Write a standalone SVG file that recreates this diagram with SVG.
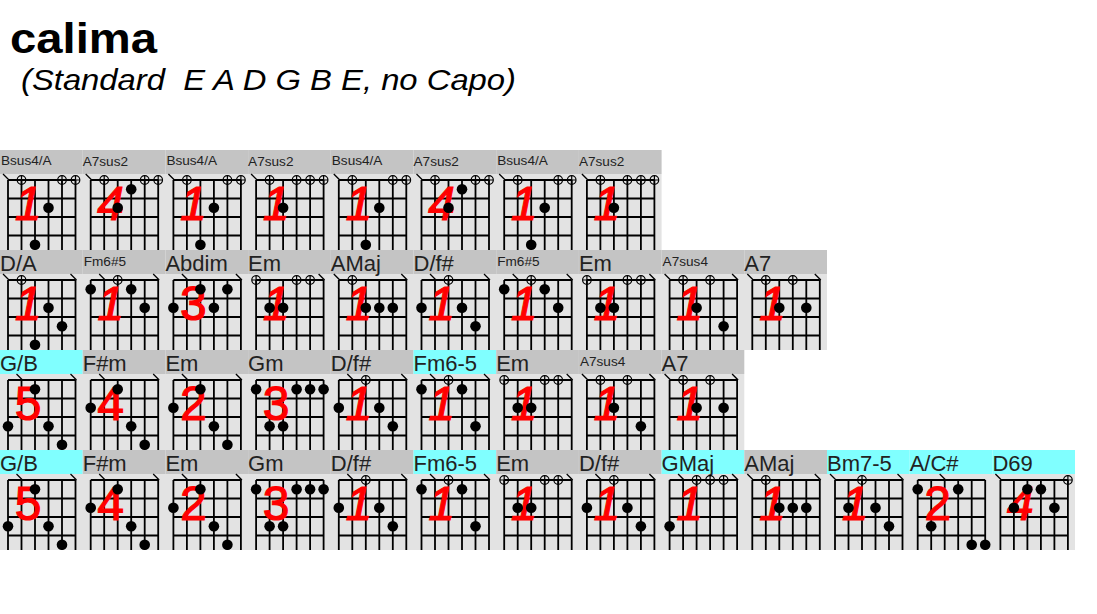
<svg xmlns="http://www.w3.org/2000/svg" xmlns:xlink="http://www.w3.org/1999/xlink" width="1097" height="614" viewBox="0 0 1097 614">
<style>
.bg{fill:#e3e3e3}
.hg{fill:#c4c4c4}
.hc{fill:#80ffff}
.lb{font-family:"Liberation Sans",Arial,sans-serif;font-size:22px;fill:#222}
.ls{font-size:13.6px}
.gl{stroke:#000;stroke-width:1.8;fill:none}
.mu{stroke:#000;stroke-width:1.3;fill:none}
.op{stroke:#000;stroke-width:1.2;fill:none}
.d{fill:#000}
.nm{font-family:"Liberation Sans",Arial,sans-serif;font-size:48px;fill:#ff0000;stroke:#ff0000;stroke-width:1.1;text-anchor:middle}
.it{font-style:italic}
</style>
<defs>
<path id="grid" class="gl" d="M8,30V100M21.5,30V100M35,30V100M48.5,30V100M62,30V100M75.5,30V100M8,30H75.5M8,48.5H75.5M8,67H75.5M8,85.5H75.5"/>
<path id="mx" class="mu" d="M-5,24L1,30"/>
<g id="mo" class="op"><circle cx="0" cy="30" r="4.3"/><path d="M-4.3,30H4.3M0,25.7V34.3"/></g>
<g id="c-bsa"><use href="#mx" x="8"/><use href="#mo" x="21.5"/><use href="#mo" x="62"/><use href="#mo" x="75.5"/><text class="nm it" x="28" y="70">1</text><circle class="d" cx="48.5" cy="57.75" r="5.3"/><circle class="d" cx="35" cy="94.75" r="5.3"/></g>
<g id="c-a7s2a"><use href="#mx" x="8"/><use href="#mo" x="21.5"/><use href="#mo" x="62"/><use href="#mo" x="75.5"/><text class="nm it" x="28" y="70">4</text><circle class="d" cx="48.5" cy="39.25" r="5.3"/><circle class="d" cx="35" cy="57.75" r="5.3"/></g>
<g id="c-a7s2b"><use href="#mx" x="8"/><use href="#mo" x="21.5"/><use href="#mo" x="48.5"/><use href="#mo" x="62"/><use href="#mo" x="75.5"/><text class="nm it" x="28" y="70">1</text><circle class="d" cx="35" cy="57.75" r="5.3"/></g>
<g id="c-da"><use href="#mx" x="8"/><use href="#mx" x="75.5"/><use href="#mo" x="21.5"/><text class="nm it" x="28" y="70">1</text><circle class="d" cx="48.5" cy="57.75" r="5.3"/><circle class="d" cx="62" cy="76.25" r="5.3"/><circle class="d" cx="35" cy="94.75" r="5.3"/></g>
<g id="c-fm6s5"><use href="#mx" x="21.5"/><use href="#mx" x="75.5"/><use href="#mo" x="35"/><text class="nm it" x="28" y="70">1</text><circle class="d" cx="8" cy="39.25" r="5.3"/><circle class="d" cx="48.5" cy="39.25" r="5.3"/><circle class="d" cx="62" cy="57.75" r="5.3"/></g>
<g id="c-abdim"><use href="#mx" x="21.5"/><use href="#mx" x="75.5"/><text class="nm" x="28" y="70">3</text><circle class="d" cx="35" cy="39.25" r="5.3"/><circle class="d" cx="62" cy="39.25" r="5.3"/><circle class="d" cx="8" cy="57.75" r="5.3"/><circle class="d" cx="48.5" cy="57.75" r="5.3"/></g>
<g id="c-em1"><use href="#mo" x="8"/><use href="#mo" x="48.5"/><use href="#mo" x="62"/><use href="#mx" x="75.5"/><text class="nm it" x="28" y="70">1</text><circle class="d" cx="21.5" cy="57.75" r="5.3"/><circle class="d" cx="35" cy="57.75" r="5.3"/></g>
<g id="c-amaj"><use href="#mx" x="8"/><use href="#mx" x="75.5"/><use href="#mo" x="21.5"/><text class="nm it" x="28" y="70">1</text><circle class="d" cx="35" cy="57.75" r="5.3"/><circle class="d" cx="48.5" cy="57.75" r="5.3"/><circle class="d" cx="62" cy="57.75" r="5.3"/></g>
<g id="c-dfs"><use href="#mx" x="21.5"/><use href="#mx" x="75.5"/><use href="#mo" x="35"/><text class="nm it" x="28" y="70">1</text><circle class="d" cx="8" cy="57.75" r="5.3"/><circle class="d" cx="48.5" cy="57.75" r="5.3"/><circle class="d" cx="62" cy="76.25" r="5.3"/></g>
<g id="c-a7s4"><use href="#mx" x="8"/><use href="#mx" x="75.5"/><use href="#mo" x="21.5"/><use href="#mo" x="48.5"/><text class="nm it" x="28" y="70">1</text><circle class="d" cx="35" cy="57.75" r="5.3"/><circle class="d" cx="62" cy="76.25" r="5.3"/></g>
<g id="c-a7"><use href="#mx" x="8"/><use href="#mx" x="75.5"/><use href="#mo" x="21.5"/><use href="#mo" x="48.5"/><text class="nm it" x="28" y="70">1</text><circle class="d" cx="35" cy="57.75" r="5.3"/><circle class="d" cx="62" cy="57.75" r="5.3"/></g>
<g id="c-gb"><use href="#mx" x="21.5"/><use href="#mx" x="75.5"/><text class="nm" x="28" y="70">5</text><circle class="d" cx="35" cy="39.25" r="5.3"/><circle class="d" cx="8" cy="76.25" r="5.3"/><circle class="d" cx="48.5" cy="76.25" r="5.3"/><circle class="d" cx="62" cy="94.75" r="5.3"/></g>
<g id="c-fsm"><use href="#mx" x="21.5"/><use href="#mx" x="75.5"/><text class="nm" x="28" y="70">4</text><circle class="d" cx="35" cy="39.25" r="5.3"/><circle class="d" cx="8" cy="57.75" r="5.3"/><circle class="d" cx="48.5" cy="76.25" r="5.3"/><circle class="d" cx="62" cy="94.75" r="5.3"/></g>
<g id="c-em2"><use href="#mx" x="21.5"/><use href="#mx" x="75.5"/><text class="nm" x="28" y="70">2</text><circle class="d" cx="35" cy="39.25" r="5.3"/><circle class="d" cx="8" cy="57.75" r="5.3"/><circle class="d" cx="48.5" cy="76.25" r="5.3"/><circle class="d" cx="62" cy="94.75" r="5.3"/></g>
<g id="c-gm"><text class="nm" x="28" y="70">3</text><circle class="d" cx="8" cy="39.25" r="5.3"/><circle class="d" cx="48.5" cy="39.25" r="5.3"/><circle class="d" cx="62" cy="39.25" r="5.3"/><circle class="d" cx="75.5" cy="39.25" r="5.3"/><circle class="d" cx="21.5" cy="76.25" r="5.3"/><circle class="d" cx="35" cy="76.25" r="5.3"/></g>
<g id="c-fm65"><use href="#mx" x="21.5"/><use href="#mx" x="75.5"/><use href="#mo" x="35"/><text class="nm it" x="28" y="70">1</text><circle class="d" cx="8" cy="39.25" r="5.3"/><circle class="d" cx="48.5" cy="39.25" r="5.3"/><circle class="d" cx="62" cy="76.25" r="5.3"/></g>
<g id="c-gmaj"><use href="#mx" x="21.5"/><use href="#mx" x="75.5"/><use href="#mo" x="35"/><use href="#mo" x="48.5"/><use href="#mo" x="62"/><text class="nm it" x="28" y="70">1</text><circle class="d" cx="8" cy="76.25" r="5.3"/></g>
<g id="c-bm75"><use href="#mx" x="8"/><use href="#mx" x="75.5"/><use href="#mo" x="35"/><text class="nm it" x="28" y="70">1</text><circle class="d" cx="21.5" cy="57.75" r="5.3"/><circle class="d" cx="48.5" cy="57.75" r="5.3"/><circle class="d" cx="62" cy="76.25" r="5.3"/></g>
<g id="c-ac"><use href="#mx" x="35"/><text class="nm" x="28" y="70">2</text><circle class="d" cx="8" cy="39.25" r="5.3"/><circle class="d" cx="48.5" cy="39.25" r="5.3"/><circle class="d" cx="21.5" cy="76.25" r="5.3"/><circle class="d" cx="62" cy="94.75" r="5.3"/><circle class="d" cx="75.5" cy="94.75" r="5.3"/></g>
<g id="c-d69"><use href="#mx" x="8"/><use href="#mo" x="75.5"/><text class="nm it" x="28" y="70">4</text><circle class="d" cx="35" cy="39.25" r="5.3"/><circle class="d" cx="48.5" cy="39.25" r="5.3"/><circle class="d" cx="21.5" cy="57.75" r="5.3"/><circle class="d" cx="62" cy="57.75" r="5.3"/></g>
</defs>
<rect width="1097" height="614" fill="#fff"/>
<g id="title">
<text x="10" y="53" font-family="Liberation Sans, Arial, sans-serif" font-weight="bold" font-size="43" textLength="147" lengthAdjust="spacingAndGlyphs">calima</text>
<text x="21" y="90" font-family="Liberation Sans, Arial, sans-serif" font-style="italic" font-size="30" xml:space="preserve" textLength="495" lengthAdjust="spacingAndGlyphs">(Standard  E A D G B E, no Capo)</text>
</g>
<g id="backgrounds">
<rect class="bg" x="0" y="174" width="661.6" height="76"/>
<rect class="bg" x="0" y="274" width="827" height="76"/>
<rect class="bg" x="0" y="374" width="744.3" height="76"/>
<rect class="bg" x="0" y="474" width="1075" height="76"/>
</g>
<g id="row1">
<g id="r1c1" transform="translate(0,150)"><rect class="hg" width="82.7" height="24"/><text class="lb ls" x="1" y="15">Bsus4/A</text><use href="#grid"/><use href="#c-bsa"/></g>
<g id="r1c2" transform="translate(82.7,150)"><rect class="hg" width="82.7" height="24"/><text class="lb ls" x="0" y="16">A7sus2</text><use href="#grid"/><use href="#c-a7s2a"/></g>
<g id="r1c3" transform="translate(165.4,150)"><rect class="hg" width="82.7" height="24"/><text class="lb ls" x="1" y="15">Bsus4/A</text><use href="#grid"/><use href="#c-bsa"/></g>
<g id="r1c4" transform="translate(248.1,150)"><rect class="hg" width="82.7" height="24"/><text class="lb ls" x="0" y="16">A7sus2</text><use href="#grid"/><use href="#c-a7s2b"/></g>
<g id="r1c5" transform="translate(330.8,150)"><rect class="hg" width="82.7" height="24"/><text class="lb ls" x="1" y="15">Bsus4/A</text><use href="#grid"/><use href="#c-bsa"/></g>
<g id="r1c6" transform="translate(413.5,150)"><rect class="hg" width="82.7" height="24"/><text class="lb ls" x="0" y="16">A7sus2</text><use href="#grid"/><use href="#c-a7s2a"/></g>
<g id="r1c7" transform="translate(496.2,150)"><rect class="hg" width="82.7" height="24"/><text class="lb ls" x="1" y="15">Bsus4/A</text><use href="#grid"/><use href="#c-bsa"/></g>
<g id="r1c8" transform="translate(578.9,150)"><rect class="hg" width="82.7" height="24"/><text class="lb ls" x="0" y="16">A7sus2</text><use href="#grid"/><use href="#c-a7s2b"/></g>
</g>
<g id="row2">
<g id="r2c1" transform="translate(0,250)"><rect class="hg" width="82.7" height="24"/><text class="lb" x="0" y="21">D/A</text><use href="#grid"/><use href="#c-da"/></g>
<g id="r2c2" transform="translate(82.7,250)"><rect class="hg" width="82.7" height="24"/><text class="lb ls" x="1" y="16">Fm6#5</text><use href="#grid"/><use href="#c-fm6s5"/></g>
<g id="r2c3" transform="translate(165.4,250)"><rect class="hg" width="82.7" height="24"/><text class="lb" x="0" y="21">Abdim</text><use href="#grid"/><use href="#c-abdim"/></g>
<g id="r2c4" transform="translate(248.1,250)"><rect class="hg" width="82.7" height="24"/><text class="lb" x="0" y="21">Em</text><use href="#grid"/><use href="#c-em1"/></g>
<g id="r2c5" transform="translate(330.8,250)"><rect class="hg" width="82.7" height="24"/><text class="lb" x="0" y="21">AMaj</text><use href="#grid"/><use href="#c-amaj"/></g>
<g id="r2c6" transform="translate(413.5,250)"><rect class="hg" width="82.7" height="24"/><text class="lb" x="0" y="21">D/f#</text><use href="#grid"/><use href="#c-dfs"/></g>
<g id="r2c7" transform="translate(496.2,250)"><rect class="hg" width="82.7" height="24"/><text class="lb ls" x="1" y="16">Fm6#5</text><use href="#grid"/><use href="#c-fm6s5"/></g>
<g id="r2c8" transform="translate(578.9,250)"><rect class="hg" width="82.7" height="24"/><text class="lb" x="0" y="21">Em</text><use href="#grid"/><use href="#c-em1"/></g>
<g id="r2c9" transform="translate(661.6,250)"><rect class="hg" width="82.7" height="24"/><text class="lb ls" x="1" y="16">A7sus4</text><use href="#grid"/><use href="#c-a7s4"/></g>
<g id="r2c10" transform="translate(744.3,250)"><rect class="hg" width="82.7" height="24"/><text class="lb" x="0" y="21">A7</text><use href="#grid"/><use href="#c-a7"/></g>
</g>
<g id="row3">
<g id="r3c1" transform="translate(0,350)"><rect class="hc" width="82.7" height="24"/><text class="lb" x="0" y="21">G/B</text><use href="#grid"/><use href="#c-gb"/></g>
<g id="r3c2" transform="translate(82.7,350)"><rect class="hg" width="82.7" height="24"/><text class="lb" x="0" y="21">F#m</text><use href="#grid"/><use href="#c-fsm"/></g>
<g id="r3c3" transform="translate(165.4,350)"><rect class="hg" width="82.7" height="24"/><text class="lb" x="0" y="21">Em</text><use href="#grid"/><use href="#c-em2"/></g>
<g id="r3c4" transform="translate(248.1,350)"><rect class="hg" width="82.7" height="24"/><text class="lb" x="0" y="21">Gm</text><use href="#grid"/><use href="#c-gm"/></g>
<g id="r3c5" transform="translate(330.8,350)"><rect class="hg" width="82.7" height="24"/><text class="lb" x="0" y="21">D/f#</text><use href="#grid"/><use href="#c-dfs"/></g>
<g id="r3c6" transform="translate(413.5,350)"><rect class="hc" width="82.7" height="24"/><text class="lb" x="0" y="21">Fm6-5</text><use href="#grid"/><use href="#c-fm65"/></g>
<g id="r3c7" transform="translate(496.2,350)"><rect class="hg" width="82.7" height="24"/><text class="lb" x="0" y="21">Em</text><use href="#grid"/><use href="#c-em1"/></g>
<g id="r3c8" transform="translate(578.9,350)"><rect class="hg" width="82.7" height="24"/><text class="lb ls" x="1" y="16">A7sus4</text><use href="#grid"/><use href="#c-a7s4"/></g>
<g id="r3c9" transform="translate(661.6,350)"><rect class="hg" width="82.7" height="24"/><text class="lb" x="0" y="21">A7</text><use href="#grid"/><use href="#c-a7"/></g>
</g>
<g id="row4">
<g id="r4c1" transform="translate(0,450)"><rect class="hc" width="82.7" height="24"/><text class="lb" x="0" y="21">G/B</text><use href="#grid"/><use href="#c-gb"/></g>
<g id="r4c2" transform="translate(82.7,450)"><rect class="hg" width="82.7" height="24"/><text class="lb" x="0" y="21">F#m</text><use href="#grid"/><use href="#c-fsm"/></g>
<g id="r4c3" transform="translate(165.4,450)"><rect class="hg" width="82.7" height="24"/><text class="lb" x="0" y="21">Em</text><use href="#grid"/><use href="#c-em2"/></g>
<g id="r4c4" transform="translate(248.1,450)"><rect class="hg" width="82.7" height="24"/><text class="lb" x="0" y="21">Gm</text><use href="#grid"/><use href="#c-gm"/></g>
<g id="r4c5" transform="translate(330.8,450)"><rect class="hg" width="82.7" height="24"/><text class="lb" x="0" y="21">D/f#</text><use href="#grid"/><use href="#c-dfs"/></g>
<g id="r4c6" transform="translate(413.5,450)"><rect class="hc" width="82.7" height="24"/><text class="lb" x="0" y="21">Fm6-5</text><use href="#grid"/><use href="#c-fm65"/></g>
<g id="r4c7" transform="translate(496.2,450)"><rect class="hg" width="82.7" height="24"/><text class="lb" x="0" y="21">Em</text><use href="#grid"/><use href="#c-em1"/></g>
<g id="r4c8" transform="translate(578.9,450)"><rect class="hg" width="82.7" height="24"/><text class="lb" x="0" y="21">D/f#</text><use href="#grid"/><use href="#c-dfs"/></g>
<g id="r4c9" transform="translate(661.6,450)"><rect class="hc" width="82.7" height="24"/><text class="lb" x="0" y="21">GMaj</text><use href="#grid"/><use href="#c-gmaj"/></g>
<g id="r4c10" transform="translate(744.3,450)"><rect class="hg" width="82.7" height="24"/><text class="lb" x="0" y="21">AMaj</text><use href="#grid"/><use href="#c-amaj"/></g>
<g id="r4c11" transform="translate(827,450)"><rect class="hc" width="82.7" height="24"/><text class="lb" x="0" y="21">Bm7-5</text><use href="#grid"/><use href="#c-bm75"/></g>
<g id="r4c12" transform="translate(909.7,450)"><rect class="hc" width="82.7" height="24"/><text class="lb" x="0" y="21">A/C#</text><use href="#grid"/><use href="#c-ac"/></g>
<g id="r4c13" transform="translate(992.4,450)"><rect class="hc" width="82.6" height="24"/><text class="lb" x="0" y="21">D69</text><use href="#grid"/><use href="#c-d69"/></g>
</g>
</svg>
